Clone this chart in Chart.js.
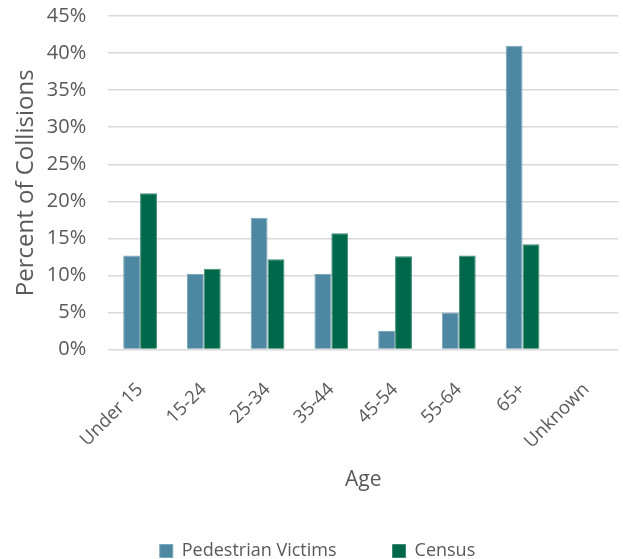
<!DOCTYPE html>
<html>
<head>
<meta charset="utf-8">
<script src="https://cdn.jsdelivr.net/npm/chart.js@4.4.1/dist/chart.umd.min.js"></script>
<style>
  html, body { margin: 0; padding: 0; background: #fff; }
  #wrap { width: 623px; height: 559px; }
</style>
</head>
<body>
<div id="wrap"><canvas id="graph"></canvas></div>
<script>
// age groups
var ageGroups = ['Under 15', '15-24', '25-34', '35-44', '45-54', '55-64', '65+', 'Unknown'];
// share of collisions (%)
var pedestrianVictims = [12.7, 10.2, 17.8, 10.2, 2.5, 5.0, 41.0, 0];
var census = [21.1, 10.9, 12.2, 15.7, 12.6, 12.7, 14.2, 0];
// y ticks
var yMax = 45;
var yStep = 5;

var textColor = '#595959';
var fontFamily = '"Open Sans", "Noto Sans", sans-serif';

var ctx = document.getElementById('graph').getContext('2d');
new Chart(ctx, {
  type: 'bar',
  data: {
    labels: ageGroups,
    datasets: [
      {
        label: 'Pedestrian Victims',
        data: pedestrianVictims,
        backgroundColor: '#4E87A1',
        borderColor: '#7AA6BA',
        borderWidth: 1
      },
      {
        label: 'Census',
        data: census,
        backgroundColor: '#00684A',
        borderColor: '#3D8A72',
        borderWidth: 1
      }
    ]
  },
  options: {
    responsive: true,
    maintainAspectRatio: false,
    animation: false,
    categoryPercentage: 0.53,
    barPercentage: 1.0,
    layout: { padding: { left: 12, right: 0, top: 0, bottom: -11 } },
    plugins: {
      legend: {
        position: 'bottom',
        labels: {
          boxWidth: 13,
          boxHeight: 13,
          color: textColor,
          font: { family: fontFamily, size: 18 },
          padding: 56
        }
      },
      tooltip: { enabled: false }
    },
    scales: {
      x: {
        grid: { display: false },
        border: { display: false },
        ticks: {
          color: textColor,
          font: { family: fontFamily, size: 18.5 },
          minRotation: 45,
          maxRotation: 45,
          padding: 21
        },
        title: {
          display: true,
          text: 'Age',
          color: textColor,
          font: { family: fontFamily, size: 21 },
          padding: { top: -6, bottom: -7 }
        }
      },
      y: {
        min: 0,
        max: yMax,
        // invisible tick marks keep the labels clear of the plot
        grid: { color: '#D9D9D9', lineWidth: 1.5, drawTicks: true, tickLength: 18, tickColor: 'rgba(0,0,0,0)' },
        border: { display: false },
        ticks: {
          stepSize: yStep,
          color: textColor,
          font: { family: fontFamily, size: 20 },
          padding: 4,
          callback: function (v) { return v + '%'; }
        },
        title: {
          display: true,
          text: 'Percent of Collisions',
          color: textColor,
          font: { family: fontFamily, size: 24 },
          padding: { top: 0, bottom: 2 }
        }
      }
    }
  }
});
</script>
</body>
</html>
